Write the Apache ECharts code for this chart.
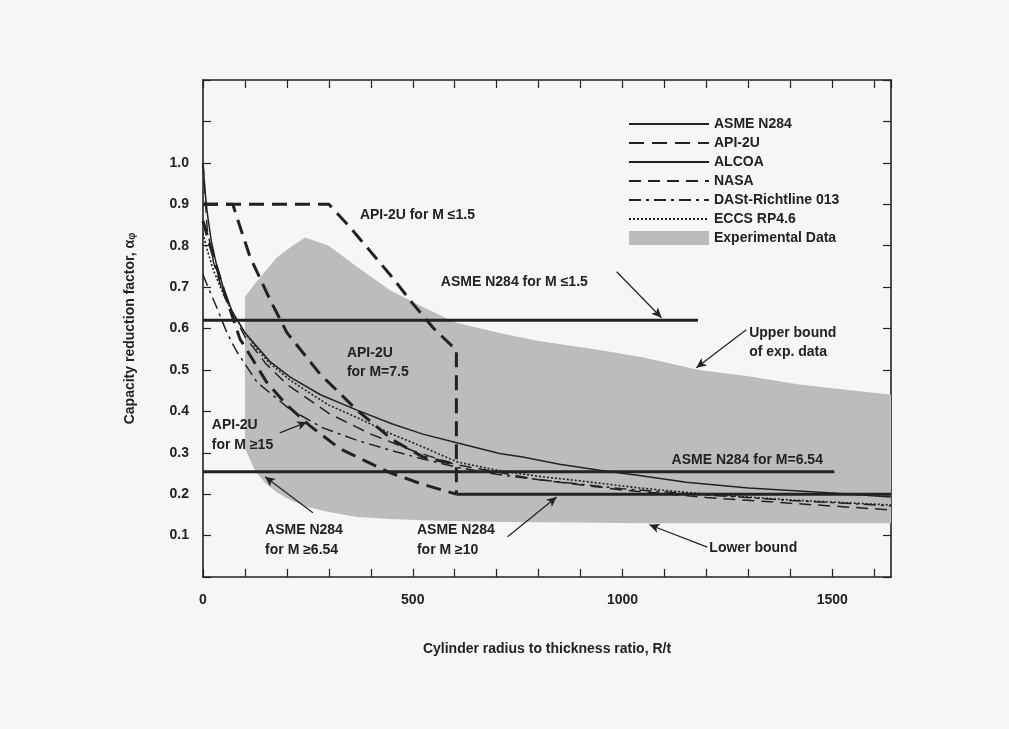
<!DOCTYPE html>
<html>
<head>
<meta charset="utf-8">
<script src="https://cdn.jsdelivr.net/npm/echarts@6/dist/echarts.min.js"></script>
<style>
html,body{margin:0;padding:0;background:#f6f6f6;}
#chart{width:1009px;height:729px;}
</style>
</head>
<body>
<div id="chart"></div>
<script>
// ---- data (R/t, alpha) ----
var asmeLow15 = [[0, 0.62], [1180, 0.62]];
var asme654 = [[0, 0.254], [1505, 0.254]];
var asme10 = [[604, 0.2], [1640, 0.2]];

var api15 = [[0, 0.9], [300, 0.9], [350, 0.845], [400, 0.785], [450, 0.725], [500, 0.66], [550, 0.6], [604, 0.548], [604, 0.2]];
var api75 = [[0, 0.9], [71, 0.9], [83, 0.862], [112, 0.773], [160, 0.669], [200, 0.59], [279, 0.49], [367, 0.403], [452, 0.331], [524, 0.29], [604, 0.272]];
var apiM15 = [[0, 0.86], [20, 0.79], [50, 0.69], [88, 0.575], [152, 0.47], [200, 0.415], [255, 0.365], [326, 0.31], [445, 0.252], [520, 0.225], [604, 0.2]];

var alcoa = [[0, 1.0], [5, 0.93], [10, 0.88], [20, 0.81], [33, 0.75], [48, 0.70], [70, 0.64], [100, 0.59], [129, 0.556], [160, 0.52], [207, 0.483], [280, 0.44], [367, 0.403], [450, 0.37], [524, 0.345], [605, 0.324], [707, 0.298], [762, 0.29], [850, 0.272], [945, 0.258], [1040, 0.245], [1152, 0.229], [1300, 0.215], [1500, 0.203], [1640, 0.193]];
var nasa = [[0, 1.0], [10, 0.84], [25, 0.76], [50, 0.68], [100, 0.58], [150, 0.515], [200, 0.465], [300, 0.395], [400, 0.345], [500, 0.305], [600, 0.272], [800, 0.235], [1000, 0.21], [1200, 0.192], [1400, 0.178], [1640, 0.162]];
var dast = [[0, 0.73], [12, 0.7], [33, 0.65], [57, 0.59], [80, 0.545], [129, 0.47], [207, 0.405], [286, 0.36], [367, 0.33], [450, 0.305], [524, 0.285], [605, 0.265], [700, 0.248], [800, 0.235], [1000, 0.213], [1200, 0.198], [1400, 0.185], [1640, 0.172]];
var eccs = [[0, 0.83], [10, 0.79], [25, 0.74], [50, 0.68], [75, 0.63], [100, 0.59], [129, 0.55], [160, 0.515], [207, 0.476], [250, 0.447], [300, 0.415], [367, 0.385], [450, 0.345], [524, 0.314], [605, 0.278], [700, 0.258], [800, 0.243], [900, 0.232], [1040, 0.215], [1200, 0.2], [1400, 0.186], [1640, 0.174]];

var expX = [100, 125, 150, 175, 200, 243, 300, 367, 445, 524, 600, 707, 800, 945, 1050, 1183, 1300, 1421, 1640];
var expUpper = [0.676, 0.71, 0.74, 0.77, 0.79, 0.82, 0.80, 0.749, 0.693, 0.652, 0.615, 0.589, 0.57, 0.548, 0.53, 0.50, 0.485, 0.465, 0.44];
var expLower = [0.31, 0.255, 0.225, 0.205, 0.19, 0.17, 0.157, 0.145, 0.14, 0.137, 0.135, 0.133, 0.132, 0.131, 0.13, 0.13, 0.13, 0.13, 0.13];

var xTickLabels = [0, 500, 1000, 1500];
var yTickLabels = ['0.1', '0.2', '0.3', '0.4', '0.5', '0.6', '0.7', '0.8', '0.9', '1.0'];

var legendNames = ['ASME N284', 'API-2U', 'ALCOA', 'NASA', 'DASt-Richtline 013', 'ECCS RP4.6', 'Experimental Data'];

// annotation texts: [text, x, y] (data coords, left / middle anchored)
var notes = [
  ['API-2U for M \u22641.5', 374, 0.874],
  ['ASME N284 for M \u22641.5', 567, 0.713],
  ['Upper bound', 1302, 0.589],
  ['of exp. data', 1302, 0.543],
  ['API-2U', 343, 0.541],
  ['for M=7.5', 343, 0.495],
  ['API-2U', 21, 0.367],
  ['for M \u226515', 21, 0.319],
  ['ASME N284 for M=6.54', 1117, 0.283],
  ['ASME N284', 148, 0.114],
  ['for M \u22656.54', 148, 0.065],
  ['ASME N284', 510, 0.114],
  ['for M \u226510', 510, 0.065],
  ['Lower bound', 1207, 0.07]
];
// arrows: [fromX, fromY, toX, toY]
var arrows = [
  [986, 0.737, 1093, 0.626],
  [1295, 0.597, 1176, 0.505],
  [183, 0.348, 248, 0.374],
  [262, 0.155, 148, 0.242],
  [726, 0.097, 843, 0.193],
  [1202, 0.072, 1064, 0.126]
];

// ---- chart ----
var FONT = '"Liberation Sans", Arial, Helvetica, sans-serif';
var INK = '#222';
var GRAY = '#bcbcbc';
var chart = echarts.init(document.getElementById('chart'), null, {renderer: 'canvas'});

function lineSeries(name, data, width, type, z) {
  return {
    name: name, type: 'line', data: data, symbol: 'none', showSymbol: false,
    xAxisIndex: 0, yAxisIndex: 0, z: z || 3, animation: false, silent: true,
    lineStyle: {color: INK, width: width, type: type},
    itemStyle: {color: INK}
  };
}

var arrowLines = arrows.map(function (a) {
  return [{coord: [a[0], a[1]]}, {coord: [a[2], a[3]]}];
});

var option = {
  backgroundColor: '#f6f6f6',
  animation: false,
  textStyle: {fontFamily: FONT},
  grid: {left: 203, right: 118, top: 80, bottom: 152, containLabel: false, outerBoundsMode: 'none'},
  legend: {
    orient: 'vertical', left: 623, top: 112, itemWidth: 80, itemHeight: 14, itemGap: 5,
    selectedMode: false,
    itemStyle: {opacity: 0},
    textStyle: {fontFamily: FONT, fontWeight: 'bold', fontSize: 14, color: INK},
    data: legendNames.map(function (n) {
      if (n === 'Experimental Data') return {name: n, icon: 'rect', itemStyle: {color: GRAY, opacity: 1, borderWidth: 0}};
      return {name: n};
    })
  },
  xAxis: [{
    type: 'value', min: 0, max: 1640, interval: 100, position: 'bottom',
    name: 'Cylinder radius to thickness ratio, R/t', nameLocation: 'middle', nameGap: 65,
    nameTextStyle: {fontFamily: FONT, fontWeight: 'bold', fontSize: 14, color: INK},
    axisLine: {show: true, onZero: false, lineStyle: {color: INK, width: 1.6}},
    axisTick: {show: true, inside: true, length: 8, lineStyle: {color: INK, width: 1.2}},
    splitLine: {show: false},
    axisLabel: {
      margin: 16, fontFamily: FONT, fontWeight: 'bold', fontSize: 14, color: INK,
      showMaxLabel: false,
      formatter: function (v) { return xTickLabels.indexOf(v) >= 0 ? String(v) : ''; }
    }
  }, {
    type: 'value', min: 0, max: 1640, interval: 100, position: 'top',
    axisLine: {show: true, onZero: false, lineStyle: {color: INK, width: 1.6}},
    axisTick: {show: true, inside: true, length: 8, lineStyle: {color: INK, width: 1.2}},
    axisLabel: {show: false}, splitLine: {show: false}
  }],
  yAxis: [{
    type: 'value', min: 0, max: 1.2, interval: 0.1, position: 'left',
    name: 'Capacity reduction factor, \u03b1{s|\u03c6}', nameLocation: 'middle', nameGap: 66, nameRotate: 90,
    nameTextStyle: {fontFamily: FONT, fontWeight: 'bold', fontSize: 14, color: INK,
      rich: {s: {fontFamily: FONT, fontWeight: 'bold', fontSize: 10, color: INK, verticalAlign: 'bottom'}}},
    axisLine: {show: true, onZero: false, lineStyle: {color: INK, width: 1.6}},
    axisTick: {show: true, inside: true, length: 8, lineStyle: {color: INK, width: 1.2}},
    splitLine: {show: false},
    axisLabel: {
      margin: 14, fontFamily: FONT, fontWeight: 'bold', fontSize: 14, color: INK,
      formatter: function (v) { var s = v.toFixed(1); return yTickLabels.indexOf(s) >= 0 ? s : ''; }
    }
  }, {
    type: 'value', min: 0, max: 1.2, interval: 0.1, position: 'right',
    axisLine: {show: true, onZero: false, lineStyle: {color: INK, width: 1.6}},
    axisTick: {show: true, inside: true, length: 8, lineStyle: {color: INK, width: 1.2}},
    axisLabel: {show: false}, splitLine: {show: false}
  }],
  series: [
    {
      name: 'Experimental Data', type: 'custom', silent: true, z: 1,
      xAxisIndex: 0, yAxisIndex: 0,
      itemStyle: {color: GRAY},
      data: [[expX[0], expUpper[0]]],
      renderItem: function (params, api) {
        var pts = [];
        for (var i = 0; i < expX.length; i++) pts.push(api.coord([expX[i], expUpper[i]]));
        for (var j = expX.length - 1; j >= 0; j--) pts.push(api.coord([expX[j], expLower[j]]));
        return {type: 'polygon', shape: {points: pts}, style: {fill: GRAY, stroke: null}};
      }
    },
    lineSeries('ASME N284', asmeLow15, 3, 'solid', 4),
    lineSeries('ASME N284', asme654, 3, 'solid', 4),
    lineSeries('ASME N284', asme10, 3, 'solid', 4),
    lineSeries('API-2U', api15, 3, [15, 8], 4),
    lineSeries('API-2U', api75, 3, [15, 8], 4),
    lineSeries('API-2U', apiM15, 3, [15, 8], 4),
    lineSeries('ALCOA', alcoa, 1.5, 'solid', 3),
    lineSeries('NASA', nasa, 1.5, [12, 7], 3),
    lineSeries('DASt-Richtline 013', dast, 1.5, [12, 5, 3, 5], 3),
    lineSeries('ECCS RP4.6', eccs, 1.6, [2, 2], 3),
    {
      name: '_arrows', type: 'line', data: [], silent: true,
      markLine: {
        silent: true, animation: false,
        symbol: ['none', 'arrow'], symbolSize: [7, 10],
        lineStyle: {color: INK, width: 1.2, type: 'solid'},
        label: {show: false},
        data: arrowLines
      }
    }
  ]
};
chart.setOption(option);

var g = notes.map(function (n) {
  var p = chart.convertToPixel({gridIndex: 0}, [n[1], n[2]]);
  return {
    type: 'text', x: p[0], y: p[1], z: 10, silent: true,
    style: {text: n[0], fill: INK, font: 'bold 14px ' + FONT, textAlign: 'left', textVerticalAlign: 'middle'}
  };
});
chart.setOption({graphic: g});
</script>
</body>
</html>
